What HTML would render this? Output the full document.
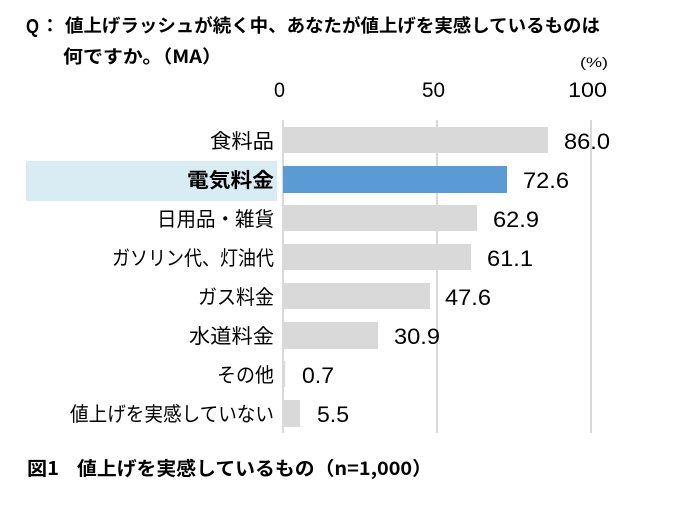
<!DOCTYPE html>
<html><head><meta charset="utf-8">
<style>
html,body{margin:0;padding:0;background:#fff;}
svg{display:block;}
text{font-family:"Liberation Sans","Noto Sans CJK JP",sans-serif;fill:#000;}
.j{font-family:"Noto Sans CJK JP","Liberation Sans",sans-serif;}
</style></head><body>
<svg width="700" height="512" viewBox="0 0 700 512" xmlns="http://www.w3.org/2000/svg">
<rect x="0" y="0" width="700" height="512" fill="#fff"/>
<!-- title -->
<text x="26" y="33" font-size="20" font-weight="bold" textLength="13" lengthAdjust="spacingAndGlyphs">Q</text>
<text x="41" y="32" font-size="18" font-weight="bold" class="j">：</text>
<text x="65" y="32" font-size="18" font-weight="bold" class="j" textLength="535" lengthAdjust="spacingAndGlyphs">値上げラッシュが続く中、あなたが値上げを実感しているものは</text>
<text x="63" y="63" font-size="18" font-weight="bold" class="j" textLength="159" lengthAdjust="spacingAndGlyphs">何ですか。（MA）</text>
<text x="580" y="67" font-size="14" textLength="28" lengthAdjust="spacingAndGlyphs">(%)</text>
<!-- ticks -->
<text x="274" y="97" font-size="21" textLength="11" lengthAdjust="spacingAndGlyphs">0</text>
<text x="422" y="97" font-size="21" textLength="23" lengthAdjust="spacingAndGlyphs">50</text>
<text x="568" y="97" font-size="21" textLength="39" lengthAdjust="spacingAndGlyphs">100</text>
<!-- highlight -->
<rect x="26" y="161" width="251" height="40" fill="#daecf3"/>
<!-- grid -->
<rect x="282" y="120" width="2" height="313" fill="#d9d9d9"/>
<rect x="436" y="120" width="2" height="313" fill="#d9d9d9"/>
<rect x="590" y="120" width="2" height="313" fill="#d9d9d9"/>
<!-- bars -->
<rect x="283" y="127" width="265" height="26" fill="#d9d9d9"/>
<rect x="283" y="166" width="224" height="27" fill="#5b9bd5"/>
<rect x="283" y="205" width="194" height="26" fill="#d9d9d9"/>
<rect x="283" y="244" width="188" height="26" fill="#d9d9d9"/>
<rect x="283" y="283" width="147" height="26" fill="#d9d9d9"/>
<rect x="283" y="322" width="95" height="27" fill="#d9d9d9"/>
<rect x="283" y="361" width="2.2" height="26" fill="#d9d9d9"/>
<rect x="283" y="400" width="17" height="27" fill="#d9d9d9"/>
<!-- category labels -->
<g class="j" font-size="20" text-anchor="end">
<text x="274" y="148" textLength="64" lengthAdjust="spacingAndGlyphs">食料品</text>
<text x="274" y="187" font-weight="bold" textLength="87" lengthAdjust="spacingAndGlyphs">電気料金</text>
<text x="274" y="226" textLength="117" lengthAdjust="spacingAndGlyphs">日用品・雑貨</text>
<text x="274" y="265" textLength="162" lengthAdjust="spacingAndGlyphs">ガソリン代、灯油代</text>
<text x="274" y="304" textLength="76" lengthAdjust="spacingAndGlyphs">ガス料金</text>
<text x="274" y="343" textLength="85" lengthAdjust="spacingAndGlyphs">水道料金</text>
<text x="274" y="382" textLength="57" lengthAdjust="spacingAndGlyphs">その他</text>
<text x="274" y="421" textLength="204" lengthAdjust="spacingAndGlyphs">値上げを実感していない</text>
</g>
<!-- values -->
<g font-size="22">
<text x="564" y="149" textLength="46" lengthAdjust="spacingAndGlyphs">86.0</text>
<text x="523" y="188" textLength="46" lengthAdjust="spacingAndGlyphs">72.6</text>
<text x="493" y="227" textLength="46" lengthAdjust="spacingAndGlyphs">62.9</text>
<text x="487" y="266" textLength="46" lengthAdjust="spacingAndGlyphs">61.1</text>
<text x="445" y="305" textLength="46" lengthAdjust="spacingAndGlyphs">47.6</text>
<text x="394" y="344" textLength="46" lengthAdjust="spacingAndGlyphs">30.9</text>
<text x="302" y="383" textLength="32" lengthAdjust="spacingAndGlyphs">0.7</text>
<text x="317" y="422" textLength="32" lengthAdjust="spacingAndGlyphs">5.5</text>
</g>
<!-- footer -->
<text x="27" y="475" font-size="19" font-weight="bold" class="j" textLength="32" lengthAdjust="spacingAndGlyphs">図1</text>
<text x="77" y="475" font-size="19" font-weight="bold" class="j" textLength="355" lengthAdjust="spacingAndGlyphs">値上げを実感しているもの（n=1,000）</text>
</svg>
</body></html>
